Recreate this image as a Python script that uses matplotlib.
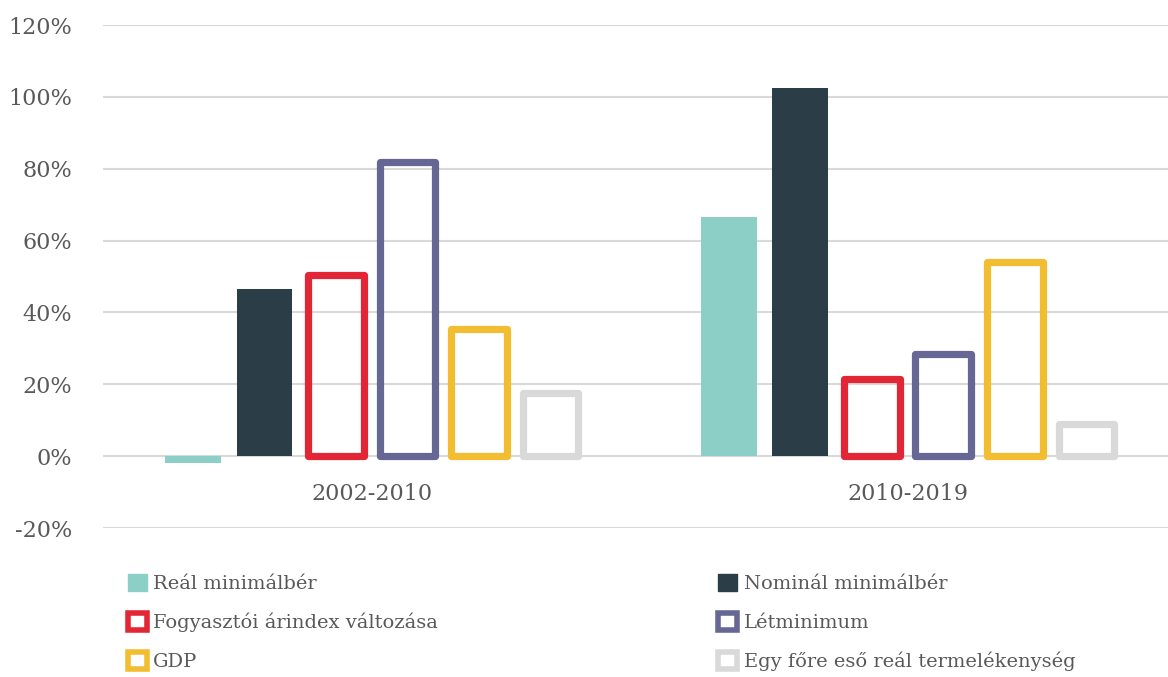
import numpy as np
import matplotlib
matplotlib.use("Agg")
import matplotlib.pyplot as plt
from matplotlib.patches import Patch
from matplotlib.ticker import FuncFormatter

# adatok (leolvasva az ábráról)
periods = ["2002-2010", "2010-2019"]
real_min = [-2.0, 66.5]
nominal_min = [46.5, 102.5]
cpi = [50.5, 21.5]
letminimum = [82.0, 28.5]
gdp = [35.5, 54.0]
productivity = [17.5, 9.0]

series_names = ["Reál minimálbér", "Nominál minimálbér", "Fogyasztói árindex változása",
                "Létminimum", "GDP", "Egy főre eső reál termelékenység"]
series = [real_min, nominal_min, cpi, letminimum, gdp, productivity]
colors = ["#8ccfc6", "#2b3e48", "#e32636", "#666794", "#f2bd30", "#d9d9d9"]
filled = [True, True, False, False, False, False]

plt.rcParams['font.family'] = ['DejaVu Serif']
txt_col = "#595959"

fig = plt.figure(figsize=(11.68, 6.77), dpi=100)
ax = fig.add_axes([0.088, 0.22, 0.912, 0.743])

x = np.arange(len(periods))
pitch = 0.1335
width = 0.104

handles = []
for i, (name, vals, c, f) in enumerate(zip(series_names, series, colors, filled)):
    pos = x + (i - 2.5) * pitch
    if f:
        ax.bar(pos, vals, width, color=c, zorder=3)
        handles.append(Patch(facecolor=c, edgecolor=c, label=name))
    else:
        ax.bar(pos, vals, width, facecolor="none", edgecolor=c, linewidth=5.2,
               joinstyle="round", zorder=3)
        handles.append(Patch(facecolor="white", edgecolor=c, linewidth=4,
                             joinstyle="round", label=name))

ax.set_xlim(-0.502, 1.486)
ax.set_ylim(-20, 120)
ax.set_yticks(np.arange(-20, 121, 20))
ax.yaxis.set_major_formatter(FuncFormatter(lambda v, p: f"{v:.0f}%"))
ax.grid(axis="y", color="#d9d9d9", linewidth=1.5, zorder=0)
ax.set_xticks([])
for s in ax.spines.values():
    s.set_visible(False)
ax.tick_params(axis="y", length=0, pad=22, labelsize=16, labelcolor=txt_col)

for xi, lab in zip(x, periods):
    ax.text(xi, -10.5, lab, ha="center", va="center", fontsize=16, color=txt_col)

# legend: columns filled first -> reorder
order = [0, 2, 4, 1, 3, 5]
leg = fig.legend([handles[k] for k in order], [series_names[k] for k in order],
                 ncol=2, loc="upper left", bbox_to_anchor=(0.103, 0.163),
                 frameon=False, fontsize=14, handlelength=0.95, handleheight=0.95,
                 handletextpad=0.35, columnspacing=14.4, labelspacing=1.0,
                 borderaxespad=0)
for t in leg.get_texts():
    t.set_color(txt_col)

fig.savefig("out.png", dpi=100)
